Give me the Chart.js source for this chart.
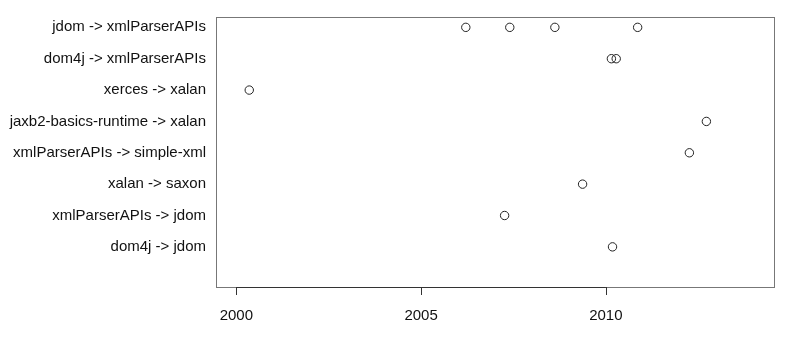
<!DOCTYPE html>
<html>
<head>
<meta charset="utf-8">
<script src="https://cdn.jsdelivr.net/npm/chart.js@4"></script>
<style>
  html, body { margin: 0; padding: 0; background: #fff; }
  #wrap { width: 810px; height: 360px; }
</style>
</head>
<body>
<div id="wrap"><canvas id="c" width="810" height="360"></canvas></div>
<script>
// rows, bottom to top
var pairs = ["dom4j -> jdom", "xmlParserAPIs -> jdom", "xalan -> saxon", "xmlParserAPIs -> simple-xml",
             "jaxb2-basics-runtime -> xalan", "xerces -> xalan", "dom4j -> xmlParserAPIs", "jdom -> xmlParserAPIs"];
// years for each row (same order)
var years = [
  [2010.18],
  [2007.26],
  [2009.37],
  [2012.26],
  [2012.72],
  [2000.35],
  [2010.15, 2010.28],
  [2006.21, 2007.40, 2008.62, 2010.86]
];
var xTicks = [2000, 2005, 2010];

var points = [];
for (var i = 0; i < years.length; i++) {
  for (var j = 0; j < years[i].length; j++) {
    points.push({ x: years[i][j], y: i + 1 });
  }
}

// box + axis line like the R plot
var boxPlugin = {
  id: 'box',
  afterDraw: function (chart) {
    var ctx = chart.ctx, a = chart.chartArea, xs = chart.scales.x;
    ctx.save();
    ctx.strokeStyle = '#777';
    ctx.lineWidth = 1;
    ctx.strokeRect(a.left + 0.5, a.top + 0.5, a.right - a.left, a.bottom - a.top);
    ctx.strokeStyle = '#333';
    ctx.beginPath();
    var x0 = xs.getPixelForValue(xTicks[0]), x1 = xs.getPixelForValue(xTicks[xTicks.length - 1]);
    ctx.moveTo(x0, a.bottom + 0.5);
    ctx.lineTo(x1, a.bottom + 0.5);
    xTicks.forEach(function (t) {
      var px = Math.round(xs.getPixelForValue(t)) + 0.5;
      ctx.moveTo(px, a.bottom);
      ctx.lineTo(px, a.bottom + 8);
    });
    ctx.stroke();
    ctx.restore();
  }
};

new Chart(document.getElementById('c'), {
  type: 'scatter',
  data: {
    datasets: [{
      data: points,
      pointStyle: 'circle',
      pointRadius: 4.2,
      pointHoverRadius: 4.2,
      pointBorderWidth: 1,
      borderColor: '#222',
      backgroundColor: 'rgba(0,0,0,0)'
    }]
  },
  options: {
    responsive: false,
    animation: false,
    layout: { padding: { top: 17, right: 36, left: 0, bottom: 0 } },
    plugins: { legend: { display: false }, tooltip: { enabled: false } },
    scales: {
      x: {
        type: 'linear',
        min: 1999.45,
        max: 2014.55,
        grid: { display: false },
        border: { display: false },
        afterBuildTicks: function (s) { s.ticks = xTicks.map(function (v) { return { value: v }; }); },
        afterFit: function (s) { s.height = 73; },
        ticks: {
          padding: 12,
          color: '#111',
          font: { family: 'Liberation Sans, Arial, sans-serif', size: 15 },
          callback: function (v) { return String(v); }
        }
      },
      y: {
        type: 'linear',
        min: -0.28,
        max: 8.33,
        grid: { display: false },
        border: { display: false },
        afterBuildTicks: function (s) { s.ticks = pairs.map(function (p, i) { return { value: i + 1 }; }); },
        afterFit: function (s) { s.width = 216; },
        ticks: {
          padding: 2,
          color: '#111',
          font: { family: 'Liberation Sans, Arial, sans-serif', size: 15 },
          callback: function (v) { return pairs[v - 1]; }
        }
      }
    }
  },
  plugins: [boxPlugin]
});
</script>
</body>
</html>
